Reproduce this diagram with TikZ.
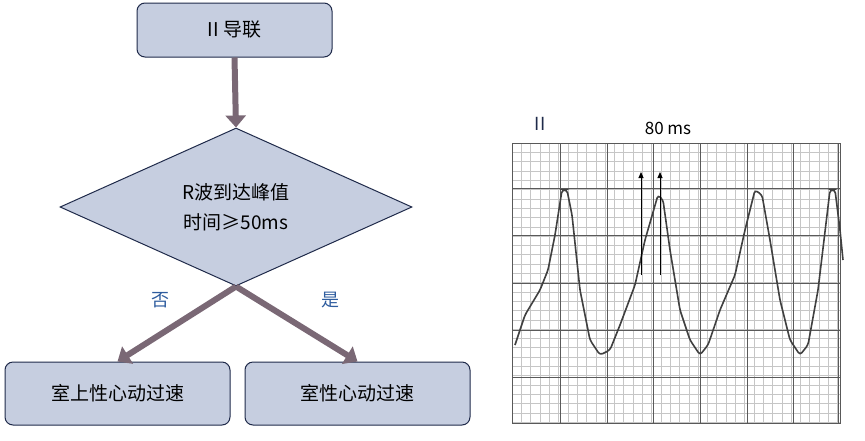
\documentclass[tikz,border=0pt]{standalone}
\usepackage{fontspec}
\setmainfont{Noto Sans CJK SC}
\usepackage{tikz}
\usetikzlibrary{shapes.geometric,arrows.meta}
\definecolor{boxfill}{HTML}{C6CEE0}
\definecolor{boxline}{HTML}{1F2A4A}
\definecolor{flowarrow}{HTML}{7A6875}
\definecolor{yesno}{HTML}{2E5C9E}
\begin{document}
\begin{tikzpicture}[x=1pt,y=-1pt,
  stepbox/.style={rectangle, rounded corners=8pt, draw=boxline, line width=1pt, fill=boxfill, font=\fontsize{19}{23}\selectfont},
  flow/.style={draw=flowarrow, line width=6pt, -{Triangle[length=12pt,width=20pt]}},
  answer/.style={text=yesno, font=\fontsize{18}{22}\selectfont}]
\useasboundingbox (0,0) rectangle (865,440);

% Flowchart
\node[stepbox, minimum width=195pt, minimum height=54pt] (lead) at (234.5,30) {II 导联};
\node[diamond, draw=boxline, line width=1pt, fill=boxfill, minimum width=352pt, minimum height=158pt, inner sep=0pt, font=\fontsize{19}{30}\selectfont, align=center] (test) at (236,207) {R波到达峰值\\时间≥50ms};
\node[stepbox, minimum width=225pt, minimum height=63pt] (svt) at (117.5,393.5) {室上性心动过速};
\node[stepbox, minimum width=225pt, minimum height=63pt] (vt) at (357.5,393.5) {室性心动过速};
\draw[flow] (lead.south) -- (test.north);
\draw[flow] (test.south) -- (svt.north);
\draw[flow] (test.south) -- (vt.north);
\node[answer] (no) at (160,300) {否};
\node[answer] (yes) at (330,300) {是};

% ECG strip
\foreach \i in {0,...,35}
  \draw[gray!45, line width=0.4pt] (512+\i*9.3,143) -- (512+\i*9.3,423);
\foreach \i in {0,...,30}
  \draw[gray!45, line width=0.4pt] (512,143+\i*9.3) -- (840,143+\i*9.3);
\foreach \x in {560,607,653,700,747,793,838}
  \draw[gray!70!black, line width=0.8pt] (\x,143) -- (\x,423);
\foreach \y in {188,235,283,330,377}
  \draw[gray!70!black, line width=0.8pt] (512,\y) -- (840,\y);
\draw[gray!70!black, line width=1pt] (512,143) rectangle (840,423);
\draw[black!75, line width=1.6pt, rounded corners=3pt]
  (515,345) -- (525,315) -- (540,290) -- (548,270) -- (555,235) -- (562,190) -- (567,190)
  -- (572,215) -- (580,290) -- (590,340) -- (600,355) -- (610,350) -- (620,325) -- (635,285)
  -- (645,240) -- (658,195) -- (663,200) -- (670,250) -- (680,310) -- (690,340) -- (700,355)
  -- (708,345) -- (720,310) -- (735,275) -- (745,230) -- (755,190) -- (762,195) -- (770,240)
  -- (780,300) -- (790,340) -- (800,355) -- (808,345) -- (818,290) -- (830,190) -- (835,190)
  -- (840,230) -- (843,260);
\coordinate (a1) at (641,275);
\coordinate (a2) at (660,275);
\draw[line width=1pt, -{Triangle[length=6pt,width=5pt]}] (a1) -- ++(0,-103);
\draw[line width=1pt, -{Triangle[length=6pt,width=5pt]}] (a2) -- ++(0,-103);
\node[text=boxline, font=\fontsize{18}{22}\selectfont] (lbl) at (540,124) {II};
\node[font=\fontsize{17}{20}\selectfont] (ms) at (668,128) {80 ms};
\end{tikzpicture}
\end{document}
